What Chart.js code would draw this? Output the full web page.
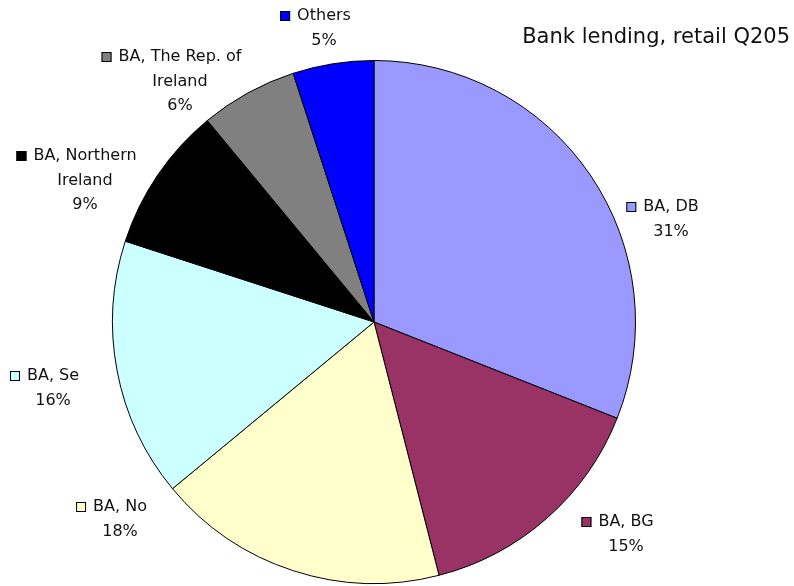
<!DOCTYPE html>
<html>
<head>
<meta charset="utf-8">
<script src="https://cdn.jsdelivr.net/npm/chart.js@4/dist/chart.umd.min.js"></script>
<style>
    html, body { margin: 0; padding: 0; background: #fff; }
    #wrap { position: relative; width: 794px; height: 586px; }
</style>
</head>
<body>
<div id="wrap"><canvas id="lendingChart" width="794" height="586"></canvas></div>
<script>
const categories = [
    ['BA, DB'],
    ['BA, BG'],
    ['BA, No'],
    ['BA, Se'],
    ['BA, Northern', 'Ireland'],
    ['BA, The Rep. of', 'Ireland'],
    ['Others']
];
const shares = [31, 15, 18, 16, 9, 6, 5];
const sliceColors = ['#9999FF', '#993366', '#FFFFCC', '#CCFFFF', '#000000', '#808080', '#0000FF'];
const chartTitle = 'Bank lending, retail Q205';

// where each label block sits: x = centre of the text, y = middle of the first line
const labelSpots = [
    [671, 207], [626, 522], [120, 507], [53, 376],
    [85, 156], [180, 57], [324, 16]
];

const FONT = '"DejaVu Sans", sans-serif';

const sliceLabels = {
    id: 'sliceLabels',
    afterDraw(chart) {
        const ctx = chart.ctx;
        const total = shares.reduce((a, b) => a + b, 0);
        ctx.save();
        ctx.fillStyle = '#000';
        ctx.textBaseline = 'middle';
        ctx.font = '16px ' + FONT;
        chart.getDatasetMeta(0).data.forEach((arc, i) => {
            const [cx, cy] = labelSpots[i];
            const lines = categories[i].concat([Math.round(shares[i] / total * 100) + '%']);
            lines.forEach((line, j) => {
                const w = ctx.measureText(line).width;
                const x0 = cx - w / 2;
                const y = cy + j * 24.5;
                ctx.textAlign = 'left';
                ctx.fillStyle = '#111';
                ctx.fillText(line, x0, y);
                if (j === 0) {
                    // small colour key in front of the first line
                    ctx.fillStyle = sliceColors[i];
                    ctx.fillRect(x0 - 17, y - 5, 10, 10);
                    ctx.strokeStyle = '#000';
                    ctx.lineWidth = 1;
                    ctx.strokeRect(x0 - 16.5, y - 4.5, 9, 9);
                }
            });
        });
        ctx.textAlign = 'right';
        ctx.fillStyle = '#111';
        ctx.font = '21px ' + FONT;
        ctx.fillText(chartTitle, 790, 38);
        ctx.restore();
    }
};

new Chart(document.getElementById('lendingChart').getContext('2d'), {
    type: 'pie',
    data: {
        labels: categories.map(c => c.join(' ')),
        datasets: [{
            data: shares,
            backgroundColor: sliceColors,
            borderColor: '#000',
            borderWidth: 1
        }]
    },
    options: {
        responsive: false,
        animation: false,
        layout: { padding: { left: 112, right: 158, top: 60, bottom: 2 } },
        plugins: {
            legend: { display: false },
            tooltip: { enabled: false }
        }
    },
    plugins: [sliceLabels]
});
</script>
</body>
</html>
